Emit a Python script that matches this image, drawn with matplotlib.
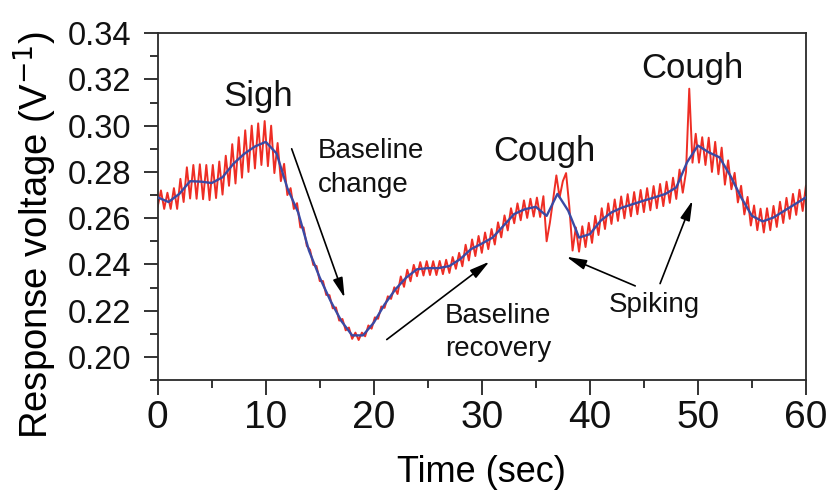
import numpy as np
import matplotlib
matplotlib.use("Agg")
import matplotlib.pyplot as plt

plt.rcParams['font.family'] = ['Liberation Sans', 'DejaVu Sans']

# Smoothed (blue) response, sampled every 1 s
smooth_time = list(range(0, 61))
smooth_values = [
    0.2690, 0.2670, 0.2705, 0.2760, 0.2758, 0.2752, 0.2777, 0.2835, 0.2878, 0.2910,
    0.2930, 0.2880, 0.2730, 0.2625, 0.2460, 0.2343, 0.2242, 0.2155, 0.2093, 0.2093,
    0.2148, 0.2227, 0.2292, 0.2343, 0.2379, 0.2384, 0.2384, 0.2393, 0.2423, 0.2466,
    0.2490, 0.2516, 0.2567, 0.2618, 0.2639, 0.2649, 0.2610, 0.2705, 0.2632, 0.2516,
    0.2531, 0.2589, 0.2625, 0.2646, 0.2661, 0.2676, 0.2690, 0.2705, 0.2733, 0.2842,
    0.2914, 0.2885, 0.2863, 0.2784, 0.2690, 0.2610, 0.2586, 0.2603, 0.2632, 0.2661,
    0.2690,
]

# Raw (red) response, sampled every 0.3 s
raw_time = np.arange(201) * 0.3
raw_values = [
    0.2650, 0.2720, 0.2640, 0.2710, 0.2640, 0.2730, 0.2640, 0.2770, 0.2670, 0.2820,
    0.2685, 0.2830, 0.2684, 0.2833, 0.2682, 0.2830, 0.2678, 0.2830, 0.2687, 0.2845,
    0.2702, 0.2870, 0.2740, 0.2920, 0.2750, 0.2950, 0.2775, 0.2980, 0.2800, 0.3000,
    0.2815, 0.3010, 0.2830, 0.3020, 0.2825, 0.3000, 0.2795, 0.2925, 0.2760, 0.2835,
    0.2700, 0.2730, 0.2640, 0.2665, 0.2560, 0.2560, 0.2480, 0.2463, 0.2398, 0.2393,
    0.2328, 0.2328, 0.2268, 0.2267, 0.2210, 0.2214, 0.2157, 0.2164, 0.2115, 0.2127,
    0.2078, 0.2105, 0.2073, 0.2105, 0.2089, 0.2136, 0.2122, 0.2171, 0.2165, 0.2218,
    0.2212, 0.2262, 0.2251, 0.2301, 0.2272, 0.2348, 0.2303, 0.2377, 0.2327, 0.2398,
    0.2349, 0.2410, 0.2352, 0.2414, 0.2354, 0.2414, 0.2354, 0.2415, 0.2358, 0.2420,
    0.2363, 0.2432, 0.2381, 0.2450, 0.2392, 0.2485, 0.2417, 0.2508, 0.2436, 0.2523,
    0.2450, 0.2538, 0.2466, 0.2553, 0.2486, 0.2582, 0.2517, 0.2612, 0.2547, 0.2643,
    0.2578, 0.2664, 0.2591, 0.2677, 0.2601, 0.2684, 0.2607, 0.2689, 0.2605, 0.2695,
    0.2500, 0.2580, 0.2680, 0.2785, 0.2690, 0.2760, 0.2795, 0.2650, 0.2460, 0.2560,
    0.2455, 0.2565, 0.2475, 0.2580, 0.2493, 0.2610, 0.2527, 0.2643, 0.2553, 0.2664,
    0.2575, 0.2681, 0.2588, 0.2694, 0.2599, 0.2704, 0.2608, 0.2713, 0.2617, 0.2722,
    0.2626, 0.2730, 0.2634, 0.2739, 0.2643, 0.2748, 0.2652, 0.2758, 0.2666, 0.2775,
    0.2683, 0.2810, 0.2710, 0.2800, 0.3160, 0.2840, 0.2965, 0.2840, 0.2950, 0.2830,
    0.2948, 0.2800, 0.2930, 0.2790, 0.2905, 0.2745, 0.2850, 0.2725, 0.2796, 0.2668,
    0.2740, 0.2616, 0.2692, 0.2568, 0.2655, 0.2548, 0.2641, 0.2538, 0.2643, 0.2548,
    0.2653, 0.2562, 0.2671, 0.2579, 0.2688, 0.2597, 0.2705, 0.2614, 0.2723, 0.2631,
    0.2740,
]

x_ticks = [0, 10, 20, 30, 40, 50, 60]
y_ticks = [0.20, 0.22, 0.24, 0.26, 0.28, 0.30, 0.32, 0.34]
y_tick_labels = ["0.20", "0.22", "0.24", "0.26", "0.28", "0.30", "0.32", "0.34"]

fig = plt.figure(figsize=(8.3, 5.03), dpi=100)
ax = fig.add_axes([0.190, 0.2445, 0.781, 0.6895])

ax.plot(raw_time, raw_values, color='#ee2d24', lw=1.4, zorder=2)
ax.plot(smooth_time, smooth_values, color='#3a4aa4', lw=1.7, zorder=3)

ax.set_xlim(0, 60)
ax.set_ylim(0.19, 0.34)
ax.set_xticks(x_ticks)
ax.set_xticks([5, 15, 25, 35, 45, 55], minor=True)
ax.set_yticks(y_ticks)
ax.set_yticklabels(y_tick_labels)
ax.set_yticks([0.19, 0.21, 0.23, 0.25, 0.27, 0.29, 0.31, 0.33], minor=True)
ax.tick_params(axis='y', which='major', direction='out', length=10, width=1.2,
               labelsize=23.5, pad=9, colors='#111111')
ax.tick_params(axis='x', which='major', direction='out', length=11, width=1.2,
               labelsize=28, pad=3.5, colors='#111111')
ax.tick_params(axis='both', which='minor', direction='out', length=6, width=1.2,
               colors='#111111')
ax.tick_params(top=False, right=False)
for s in ax.spines.values():
    s.set_linewidth(1.3)
    s.set_color('#2a2a2a')

ax.set_xlabel("Time (sec)", fontsize=26)
ax.xaxis.set_label_coords(0.5, -0.216)
ax.set_ylabel("Response voltage (V$^{-1}$)", fontsize=27.5)
ax.yaxis.set_label_coords(-0.152, 0.42)

big = dict(fontsize=25, ha='center', va='center', color='#111111')
small = dict(fontsize=20, color='#111111')
ax.text(9.3, 0.3125, "Sigh", **big)
ax.text(35.8, 0.2890, "Cough", **big)
ax.text(49.5, 0.3248, "Cough", **big)
ax.text(14.8, 0.2815, "Baseline\nchange", ha='left', va='center', linespacing=1.4, **small)
ax.text(31.5, 0.2105, "Baseline\nrecovery", ha='center', va='center', linespacing=1.35, **small)
ax.text(46.0, 0.2194, "Spiking", ha='center', va='baseline', **small)

arrow = dict(arrowstyle='-|>,head_length=0.8,head_width=0.2', color='black',
             lw=1.2, mutation_scale=15, shrinkA=0, shrinkB=0)
ax.annotate('', xy=(17.3, 0.2256), xytext=(12.4, 0.2900), arrowprops=arrow)
ax.annotate('', xy=(30.7, 0.2412), xytext=(21.2, 0.2075), arrowprops=arrow)
ax.annotate('', xy=(37.84, 0.2433), xytext=(44.2, 0.2307), arrowprops=arrow)
ax.annotate('', xy=(49.5, 0.2676), xytext=(46.5, 0.2317), arrowprops=arrow)

fig.savefig("out.png", dpi=100)
